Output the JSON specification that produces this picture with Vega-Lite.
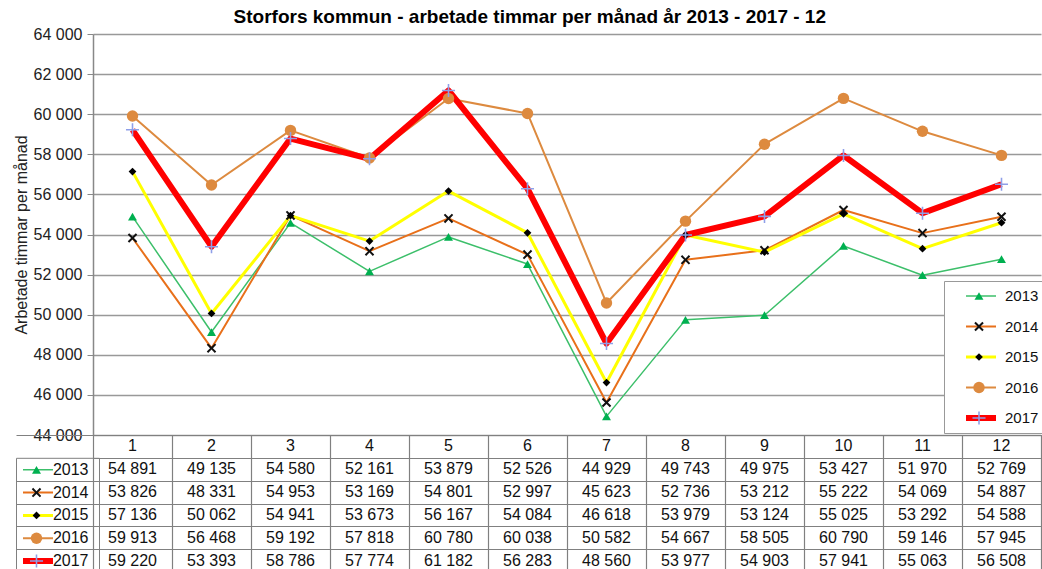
{
  "$schema": "https://vega.github.io/schema/vega-lite/v6.json",
  "padding": {"left": 13, "top": 8, "right": 0, "bottom": 0},
  "autosize": {"type": "pad"},
  "title": {"text": "Storfors kommun - arbetade timmar per månad år 2013 - 2017 - 12", "fontSize": 19, "fontWeight": "bold", "font": "Liberation Sans", "anchor": "middle", "frame": "bounds", "offset": -1, "color": "#000"},
  "config": {
    "font": "Liberation Sans",
    "locale": {"number": {"decimal": ",", "thousands": " ", "grouping": [3], "currency": ["", " kr"]}},
    "view": {"stroke": null},
    "legend": {"labelFontSize": 15, "labelColor": "#111", "labelFont": "Liberation Sans"}
  },
  "datasets": {
    "hours": [
      {"year": "2013", "month": 1, "hours": 54891}, {"year": "2013", "month": 2, "hours": 49135}, {"year": "2013", "month": 3, "hours": 54580}, {"year": "2013", "month": 4, "hours": 52161}, {"year": "2013", "month": 5, "hours": 53879}, {"year": "2013", "month": 6, "hours": 52526}, {"year": "2013", "month": 7, "hours": 44929}, {"year": "2013", "month": 8, "hours": 49743}, {"year": "2013", "month": 9, "hours": 49975}, {"year": "2013", "month": 10, "hours": 53427}, {"year": "2013", "month": 11, "hours": 51970}, {"year": "2013", "month": 12, "hours": 52769},
      {"year": "2014", "month": 1, "hours": 53826}, {"year": "2014", "month": 2, "hours": 48331}, {"year": "2014", "month": 3, "hours": 54953}, {"year": "2014", "month": 4, "hours": 53169}, {"year": "2014", "month": 5, "hours": 54801}, {"year": "2014", "month": 6, "hours": 52997}, {"year": "2014", "month": 7, "hours": 45623}, {"year": "2014", "month": 8, "hours": 52736}, {"year": "2014", "month": 9, "hours": 53212}, {"year": "2014", "month": 10, "hours": 55222}, {"year": "2014", "month": 11, "hours": 54069}, {"year": "2014", "month": 12, "hours": 54887},
      {"year": "2015", "month": 1, "hours": 57136}, {"year": "2015", "month": 2, "hours": 50062}, {"year": "2015", "month": 3, "hours": 54941}, {"year": "2015", "month": 4, "hours": 53673}, {"year": "2015", "month": 5, "hours": 56167}, {"year": "2015", "month": 6, "hours": 54084}, {"year": "2015", "month": 7, "hours": 46618}, {"year": "2015", "month": 8, "hours": 53979}, {"year": "2015", "month": 9, "hours": 53124}, {"year": "2015", "month": 10, "hours": 55025}, {"year": "2015", "month": 11, "hours": 53292}, {"year": "2015", "month": 12, "hours": 54588},
      {"year": "2016", "month": 1, "hours": 59913}, {"year": "2016", "month": 2, "hours": 56468}, {"year": "2016", "month": 3, "hours": 59192}, {"year": "2016", "month": 4, "hours": 57818}, {"year": "2016", "month": 5, "hours": 60780}, {"year": "2016", "month": 6, "hours": 60038}, {"year": "2016", "month": 7, "hours": 50582}, {"year": "2016", "month": 8, "hours": 54667}, {"year": "2016", "month": 9, "hours": 58505}, {"year": "2016", "month": 10, "hours": 60790}, {"year": "2016", "month": 11, "hours": 59146}, {"year": "2016", "month": 12, "hours": 57945},
      {"year": "2017", "month": 1, "hours": 59220}, {"year": "2017", "month": 2, "hours": 53393}, {"year": "2017", "month": 3, "hours": 58786}, {"year": "2017", "month": 4, "hours": 57774}, {"year": "2017", "month": 5, "hours": 61182}, {"year": "2017", "month": 6, "hours": 56283}, {"year": "2017", "month": 7, "hours": 48560}, {"year": "2017", "month": 8, "hours": 53977}, {"year": "2017", "month": 9, "hours": 54903}, {"year": "2017", "month": 10, "hours": 57941}, {"year": "2017", "month": 11, "hours": 55063}, {"year": "2017", "month": 12, "hours": 56508}
    ]
  },
  "spacing": 0,
  "bounds": "flush",
  "resolve": {
    "scale": {"x": "independent", "y": "independent"},
    "legend": {"stroke": "independent", "strokeWidth": "independent", "fill": "independent", "shape": "independent", "size": "independent"}
  },
  "vconcat": [
    {
      "width": 948,
      "height": 401,
      "data": {"name": "hours"},
      "encoding": {
        "x": {"field": "month", "type": "ordinal", "scale": {"type": "point", "padding": 0.5}, "axis": null},
        "y": {"field": "hours", "type": "quantitative", "scale": {"domain": [44000, 64000], "zero": false, "nice": false},
          "axis": {"values": [44000, 46000, 48000, 50000, 52000, 54000, 56000, 58000, 60000, 62000, 64000], "format": ",d", "title": "Arbetade timmar per månad", "titleFontSize": 16, "titleFontWeight": "normal", "titleColor": "#222", "titlePadding": 4, "labelFontSize": 16, "labelColor": "#222", "labelPadding": 5, "tickSize": 6, "tickColor": "#888", "domainColor": "#888", "domainWidth": 1.5, "gridColor": "#999", "gridWidth": 1.5}}
      },
      "layer": [
        {
          "mark": {"type": "line", "strokeJoin": "round"},
          "encoding": {
            "stroke": {"field": "year", "type": "nominal", "scale": {"domain": ["2013", "2014", "2015", "2016", "2017"], "range": ["#3cbf6a", "#e8701a", "#ffff00", "#dd8a3f", "#ff0000"]},
              "legend": {"orient": "none", "legendX": 851, "legendY": 247, "title": null, "symbolType": "stroke", "symbolSize": 900, "padding": 7, "symbolOffset": 12, "labelOffset": 6, "rowPadding": 14.5, "clipHeight": 16, "strokeColor": "#999", "fillColor": "white", "zindex": 1}},
            "strokeWidth": {"field": "year", "type": "nominal", "scale": {"type": "ordinal", "domain": ["2013", "2014", "2015", "2016", "2017"], "range": [1.5, 2, 3, 2, 6]}}
          }
        },
        {
          "mark": {"type": "point", "filled": true, "opacity": 1, "strokeWidth": 0},
          "encoding": {
            "fill": {"field": "year", "type": "nominal", "scale": {"range": ["#00b050", "#111111", "#000000", "#dd8a3f", "#8f9fe8"]},
              "legend": {"orient": "none", "legendX": 851, "legendY": 247, "title": null, "labelExpr": "''", "padding": 7, "symbolOffset": 20.5, "rowPadding": 14.5, "clipHeight": 16, "symbolStrokeWidth": 0, "zindex": 2}},
            "shape": {"field": "year", "type": "nominal", "scale": {"range": ["triangle-up", "M-1,-0.7L-0.7,-1L0,-0.3L0.7,-1L1,-0.7L0.3,0L1,0.7L0.7,1L0,0.3L-0.7,1L-1,0.7L-0.3,0Z", "diamond", "circle", "M-1,-0.12L-0.12,-0.12L-0.12,-1L0.12,-1L0.12,-0.12L1,-0.12L1,0.12L0.12,0.12L0.12,1L-0.12,1L-0.12,0.12L-1,0.12Z"]}},
            "size": {"field": "year", "type": "nominal", "scale": {"type": "ordinal", "range": [80, 90, 60, 130, 170]}}
          }
        }
      ]
    },
    {
      "width": 948,
      "height": 137,
      "view": {"stroke": "#808080"},
      "layer": [
        {
          "data": {"name": "hours"},
          "mark": {"type": "text", "fontSize": 16, "color": "#111"},
          "encoding": {
            "x": {"field": "month", "type": "ordinal", "scale": {"type": "band", "paddingInner": 0, "paddingOuter": 0},
              "axis": {"orient": "top", "labels": false, "ticks": false, "domain": false, "title": null, "grid": true, "tickBand": "extent", "gridColor": "#808080", "gridWidth": 1.2}},
            "y": {"field": "year", "type": "nominal", "scale": {"domain": ["M", "2013", "2014", "2015", "2016", "2017"], "paddingInner": 0, "paddingOuter": 0},
              "axis": {"title": null, "grid": true, "tickBand": "extent", "gridColor": "#808080", "gridWidth": 1.2, "tickSize": 77, "tickColor": {"condition": {"test": "datum.value === 'M'", "value": "transparent"}, "value": "#808080"}, "tickWidth": 1.2, "domainColor": "#808080", "labelPadding": -72, "labelFontSize": 16, "labelColor": "#111", "labelExpr": "datum.value === 'M' ? '' : datum.value"}},
            "text": {"field": "hours", "type": "quantitative", "format": ",d"}
          }
        },
        {
          "data": {"name": "hours"},
          "transform": [{"filter": "datum.year === '2013'"}],
          "mark": {"type": "text", "fontSize": 16, "color": "#111"},
          "encoding": {
            "x": {"field": "month", "type": "ordinal"},
            "y": {"datum": "M", "type": "nominal"},
            "text": {"field": "month", "type": "ordinal"}
          }
        },
        {
          "data": {"values": []},
          "mark": {"type": "line"},
          "encoding": {
            "x": {"field": "month", "type": "ordinal"},
            "y": {"field": "year", "type": "nominal"},
            "stroke": {"field": "year", "type": "nominal", "scale": {"domain": ["2013", "2014", "2015", "2016", "2017"], "range": ["#3cbf6a", "#e8701a", "#ffff00", "#dd8a3f", "#ff0000"]},
              "legend": {"orient": "none", "legendX": -77, "legendY": 22.8, "title": null, "symbolType": "stroke", "symbolSize": 900, "labelExpr": "''", "padding": 4, "symbolOffset": 0, "labelOffset": 39, "rowPadding": 6.8, "clipHeight": 16, "strokeColor": "#808080", "zindex": 1}},
            "strokeWidth": {"field": "year", "type": "nominal", "scale": {"type": "ordinal", "domain": ["2013", "2014", "2015", "2016", "2017"], "range": [1.5, 2, 3, 2, 6]}}
          }
        },
        {
          "data": {"values": []},
          "mark": {"type": "point", "filled": true, "opacity": 1, "strokeWidth": 0},
          "encoding": {
            "x": {"field": "month", "type": "ordinal"},
            "y": {"field": "year", "type": "nominal"},
            "fill": {"field": "year", "type": "nominal", "scale": {"range": ["#00b050", "#111111", "#000000", "#dd8a3f", "#8f9fe8"]},
              "legend": {"orient": "none", "legendX": -77, "legendY": 22.8, "title": null, "labelExpr": "''", "padding": 4, "symbolOffset": 9, "rowPadding": 6.8, "clipHeight": 16, "symbolStrokeWidth": 0, "zindex": 2}},
            "shape": {"field": "year", "type": "nominal", "scale": {"range": ["triangle-up", "M-1,-0.7L-0.7,-1L0,-0.3L0.7,-1L1,-0.7L0.3,0L1,0.7L0.7,1L0,0.3L-0.7,1L-1,0.7L-0.3,0Z", "diamond", "circle", "M-1,-0.12L-0.12,-0.12L-0.12,-1L0.12,-1L0.12,-0.12L1,-0.12L1,0.12L0.12,0.12L0.12,1L-0.12,1L-0.12,0.12L-1,0.12Z"]}},
            "size": {"field": "year", "type": "nominal", "scale": {"type": "ordinal", "range": [80, 90, 60, 130, 170]}}
          }
        }
      ]
    }
  ]
}
